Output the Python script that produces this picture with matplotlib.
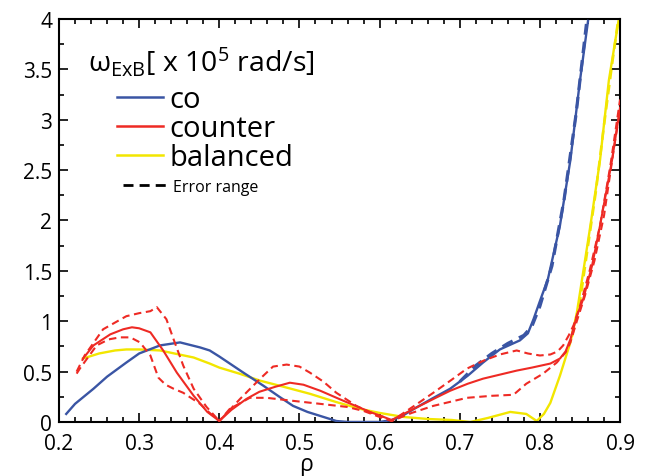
from matplotlib import pyplot as plt
from matplotlib.lines import Line2D
from matplotlib.ticker import MultipleLocator, FuncFormatter
import matplotlib

matplotlib.rcParams['font.family'] = ['Open Sans', 'DejaVu Sans']
matplotlib.rcParams['mathtext.fontset'] = 'custom'
matplotlib.rcParams['mathtext.rm'] = 'Open Sans'
matplotlib.rcParams['mathtext.it'] = 'Open Sans'

# co
rho_co = [0.209, 0.22, 0.243, 0.26, 0.284, 0.30, 0.326, 0.351, 0.376, 0.388, 0.40, 0.415,
          0.43, 0.455, 0.475, 0.492, 0.51, 0.526, 0.546, 0.56, 0.58, 0.60, 0.615, 0.626,
          0.645, 0.665, 0.688, 0.71, 0.729, 0.75, 0.775, 0.785, 0.792, 0.80, 0.81, 0.825,
          0.838, 0.85, 0.86]
w_co = [0.08, 0.18, 0.33, 0.45, 0.59, 0.68, 0.76, 0.79, 0.74, 0.71, 0.65, 0.57,
        0.49, 0.36, 0.25, 0.16, 0.10, 0.06, 0.01, 0.0, 0.0, 0.0, 0.02, 0.05,
        0.14, 0.23, 0.33, 0.46, 0.59, 0.72, 0.81, 0.88, 1.02, 1.20, 1.42, 1.95,
        2.60, 3.39, 3.98]
rho_co_err = [0.70, 0.72, 0.74, 0.76, 0.78, 0.79, 0.80, 0.815, 0.83, 0.845, 0.858]
w_co_err = [0.40, 0.56, 0.68, 0.78, 0.86, 0.95, 1.15, 1.55, 2.20, 3.05, 3.95]

# counter
rho_ctr = [0.23, 0.243, 0.264, 0.28, 0.291, 0.30, 0.314, 0.33, 0.347, 0.368, 0.385, 0.40,
           0.415, 0.434, 0.45, 0.47, 0.488, 0.505, 0.526, 0.555, 0.588, 0.605, 0.615, 0.625,
           0.65, 0.67, 0.688, 0.71, 0.729, 0.75, 0.771, 0.79, 0.813, 0.825, 0.832, 0.838,
           0.846, 0.854, 0.865, 0.875, 0.89, 0.90]
w_ctr = [0.63, 0.76, 0.87, 0.92, 0.94, 0.93, 0.89, 0.71, 0.49, 0.26, 0.10, 0.01,
         0.12, 0.23, 0.30, 0.35, 0.39, 0.37, 0.31, 0.21, 0.10, 0.05, 0.02, 0.06,
         0.16, 0.24, 0.31, 0.38, 0.43, 0.47, 0.51, 0.54, 0.58, 0.63, 0.70, 0.82,
         1.05, 1.22, 1.55, 1.95, 2.60, 3.12]
rho_ctr_hi = [0.222, 0.232, 0.255, 0.284, 0.30, 0.314, 0.322, 0.334, 0.343, 0.355, 0.368,
              0.384, 0.40, 0.426, 0.451, 0.467, 0.484, 0.50, 0.513, 0.53, 0.546, 0.571,
              0.59, 0.605, 0.615, 0.63, 0.645, 0.667, 0.69, 0.709, 0.73, 0.75, 0.771,
              0.785, 0.80, 0.813, 0.822, 0.829, 0.836, 0.842, 0.85, 0.862, 0.875, 0.888, 0.90]
w_ctr_hi = [0.50, 0.66, 0.92, 1.05, 1.08, 1.10, 1.14, 1.02, 0.82, 0.56, 0.33,
            0.15, 0.01, 0.23, 0.43, 0.55, 0.57, 0.55, 0.49, 0.40, 0.29, 0.16,
            0.09, 0.05, 0.01, 0.09, 0.17, 0.29, 0.42, 0.53, 0.61, 0.67, 0.71,
            0.68, 0.66, 0.67, 0.70, 0.76, 0.86, 0.96, 1.15, 1.50, 1.95, 2.55, 3.20]
rho_ctr_lo = [0.222, 0.226, 0.247, 0.262, 0.276, 0.289, 0.301, 0.314, 0.324, 0.333, 0.343,
              0.355, 0.376, 0.388, 0.40, 0.413, 0.438, 0.459, 0.492, 0.526, 0.559, 0.58,
              0.60, 0.615, 0.64, 0.667, 0.709, 0.74, 0.767, 0.783, 0.804, 0.821, 0.832,
              0.838, 0.846, 0.856, 0.868, 0.88, 0.892, 0.90]
w_ctr_lo = [0.48, 0.53, 0.76, 0.82, 0.84, 0.84, 0.79, 0.66, 0.44, 0.37, 0.33,
            0.29, 0.18, 0.09, 0.01, 0.13, 0.24, 0.24, 0.21, 0.18, 0.15, 0.11,
            0.05, 0.01, 0.09, 0.16, 0.24, 0.26, 0.27, 0.38, 0.48, 0.59, 0.69,
            0.79, 1.00, 1.25, 1.60, 2.05, 2.70, 3.10]

# balanced
rho_bal = [0.23, 0.25, 0.27, 0.284, 0.30, 0.326, 0.35, 0.368, 0.388, 0.40, 0.425, 0.451,
           0.48, 0.513, 0.545, 0.576, 0.60, 0.63, 0.66, 0.69, 0.713, 0.735, 0.763, 0.783,
           0.796, 0.805, 0.813, 0.825, 0.838, 0.846, 0.863, 0.875, 0.886, 0.898]
w_bal = [0.63, 0.68, 0.71, 0.72, 0.72, 0.71, 0.67, 0.64, 0.58, 0.54, 0.48, 0.41,
         0.35, 0.28, 0.20, 0.13, 0.09, 0.05, 0.03, 0.02, 0.00, 0.04, 0.10, 0.08,
         0.01, 0.08, 0.19, 0.46, 0.79, 1.08, 1.95, 2.60, 3.39, 3.98]
rho_bal_err = [0.84, 0.85, 0.86, 0.87, 0.88, 0.89, 0.897]
w_bal_err = [0.85, 1.20, 1.75, 2.30, 2.95, 3.55, 3.95]

c_co = '#3a55a4'
c_ctr = '#ee2a24'
c_bal = '#f2e600'
dash = (0, (3.6, 2.2))

fig = plt.figure(figsize=(6.57, 4.77), dpi=100)
ax = fig.add_axes([0.0898, 0.1132, 0.854, 0.845])

ax.plot(rho_bal, w_bal, color=c_bal, lw=1.7, zorder=2)
ax.plot(rho_bal_err, w_bal_err, color=c_bal, lw=1.9, ls=dash, zorder=2)
ax.plot(rho_co, w_co, color=c_co, lw=1.7, zorder=3)
ax.plot(rho_co_err, w_co_err, color=c_co, lw=2.3, ls=dash, zorder=3)
ax.plot(rho_ctr, w_ctr, color=c_ctr, lw=1.5, zorder=4)
ax.plot(rho_ctr_hi, w_ctr_hi, color=c_ctr, lw=1.5, ls=dash, zorder=4)
ax.plot(rho_ctr_lo, w_ctr_lo, color=c_ctr, lw=1.5, ls=dash, zorder=4)

ax.set_xlim(0.2, 0.9)
ax.set_ylim(0, 4)
ax.xaxis.set_major_locator(MultipleLocator(0.1))
ax.xaxis.set_minor_locator(MultipleLocator(0.02))
ax.yaxis.set_major_locator(MultipleLocator(0.5))
ax.yaxis.set_minor_locator(MultipleLocator(0.25))
ax.xaxis.set_major_formatter(FuncFormatter(lambda v, p: '%g' % round(v, 2)))
ax.yaxis.set_major_formatter(FuncFormatter(lambda v, p: '%g' % round(v, 2)))
ax.tick_params(which='both', direction='in', top=True, right=True, width=1.2)
ax.tick_params(which='major', length=6.5, labelsize=15)
ax.tick_params(axis='x', which='major', pad=7.6)
ax.tick_params(axis='y', which='major', pad=5)
ax.tick_params(which='minor', length=3.5)
for s in ax.spines.values():
    s.set_linewidth(1.5)

ax.set_xlabel('ρ', fontsize=16.5, x=0.44, labelpad=-0.8)

ax.text(0.052, 0.896, r'$\mathrm{ω}_{\mathrm{ExB}}$[ x 10$^5$ rad/s]', transform=ax.transAxes,
        fontsize=20.5, va='center', ha='left')

h1 = [Line2D([], [], color=c_co, lw=1.8),
      Line2D([], [], color=c_ctr, lw=1.8),
      Line2D([], [], color=c_bal, lw=1.8)]
leg1 = ax.legend(h1, ['co', 'counter', 'balanced'], loc='upper left',
                 bbox_to_anchor=(0.103, 0.836), frameon=False, fontsize=21,
                 borderpad=0, borderaxespad=0, handlelength=1.58,
                 handletextpad=0.22, labelspacing=0.0)
ax.add_artist(leg1)
h2 = [Line2D([], [], color='k', lw=2, ls=dash)]
leg2 = ax.legend(h2, ['Error range'], loc='center left',
                 bbox_to_anchor=(0.114, 0.584), frameon=False, fontsize=11.5,
                 borderpad=0, borderaxespad=0, handlelength=2.75, handletextpad=0.4)

plt.savefig('out.png', dpi=100)
